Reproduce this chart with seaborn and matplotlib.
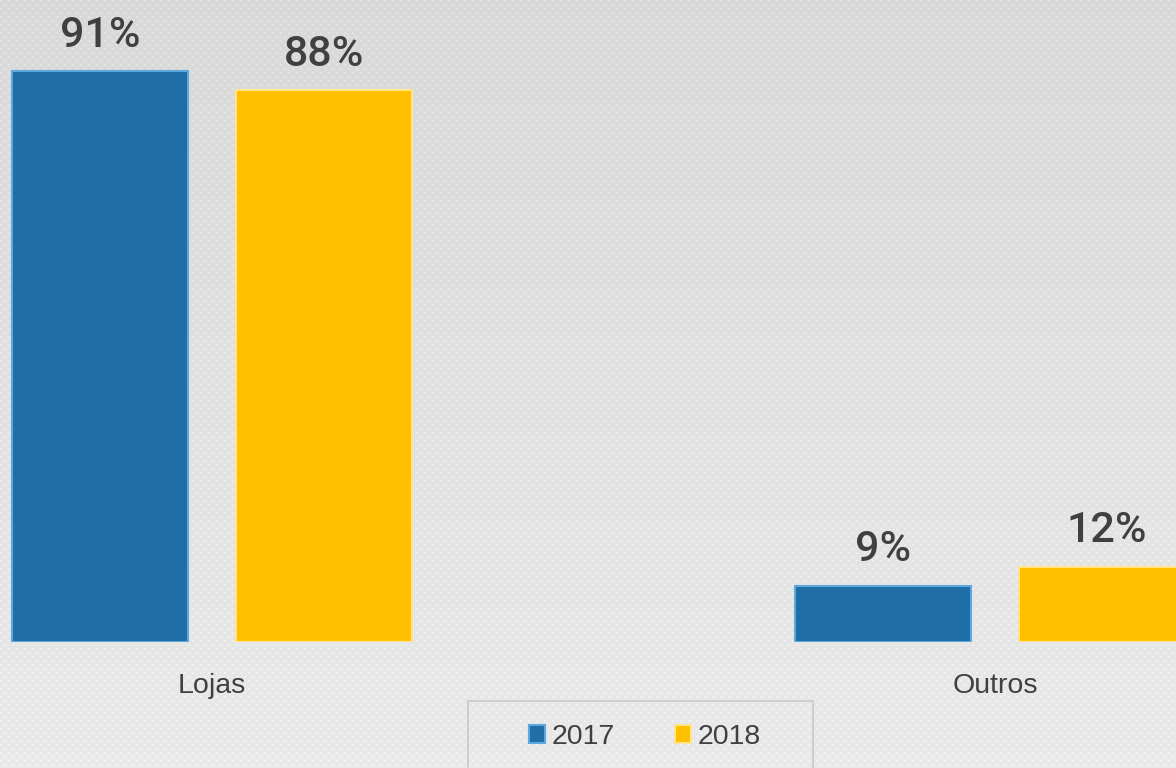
import numpy as np
import matplotlib
matplotlib.use('Agg')
import matplotlib.pyplot as plt
import pandas as pd
import seaborn as sns
from matplotlib.patches import Patch, Rectangle

categories = ['Lojas', 'Outros']
years = ['2017', '2018']
values_2017 = [91, 9]
values_2018 = [88, 12]

colors = {'2017': '#1f6ea8', '2018': '#ffc000'}
edges = {'2017': '#5ea8e0', '2018': '#ffe48c'}
text_color = '#404040'

df = pd.DataFrame({
    'categoria': categories * 2,
    'ano': [years[0]] * 2 + [years[1]] * 2,
    'valor': values_2017 + values_2018,
})

sns.set_style('white')
W, H = 1176, 768
fig = plt.figure(figsize=(W / 100, H / 100), dpi=100)

# background: soft vertical gradient with a fine dot texture
yy, xx = np.mgrid[0:H, 0:W]
bg = 0.85 + 0.065 * (yy / H)
dots = (((yy % 8) < 2) & ((xx % 8) < 2)) | ((((yy + 4) % 8) < 2) & (((xx + 4) % 8) < 2))
bg = bg + dots * 0.035
fig.figimage(np.dstack([bg, bg, bg]), xo=0, yo=0, origin='upper', zorder=-10)

ax = fig.add_axes([0, 126 / H, 1, 642 / H])
ax.patch.set_alpha(0)

sns.barplot(data=df, x='categoria', y='valor', hue='ano', palette=colors,
            width=0.572, gap=0.21, ax=ax, legend=False, saturation=1)

for container, yr in zip(ax.containers, years):
    for bar in container:
        bar.set_edgecolor(edges[yr])
        bar.set_linewidth(1.5)
    ax.bar_label(container, labels=[f'{v:g}%' for v in container.datavalues],
                 padding=11, fontsize=31, color=text_color,
                 family='Roboto', fontweight='medium')

ax.set_xlim(-212 / 783, 1 + 181 / 783)
ax.set_ylim(0, 642 / 6.27)
ax.set_xlabel('')
ax.set_ylabel('')
ax.set_yticks([])
ax.tick_params(axis='x', length=0, pad=22, labelsize=20.5, labelcolor=text_color)
for lab in ax.get_xticklabels():
    lab.set_family('Liberation Sans')
sns.despine(ax=ax, left=True, bottom=True)

# legend box
fig.patches.append(Rectangle((468 / W, -0.05), 345 / W, (H - 701) / H + 0.05,
                             transform=fig.transFigure, facecolor='none',
                             edgecolor='#c8c8c8', linewidth=1.2))
handles = [Patch(facecolor=colors[y], edgecolor=edges[y], linewidth=1.5, label=y) for y in years]
fig.legend(handles=handles, loc='center', bbox_to_anchor=(645 / W, (H - 737) / H),
           ncol=2, frameon=False, handlelength=0.55, handleheight=0.55,
           handletextpad=0.25, columnspacing=2.1,
           prop={'family': 'Liberation Sans', 'size': 20.5}, labelcolor=text_color)

fig.savefig('out.png', dpi=100)
